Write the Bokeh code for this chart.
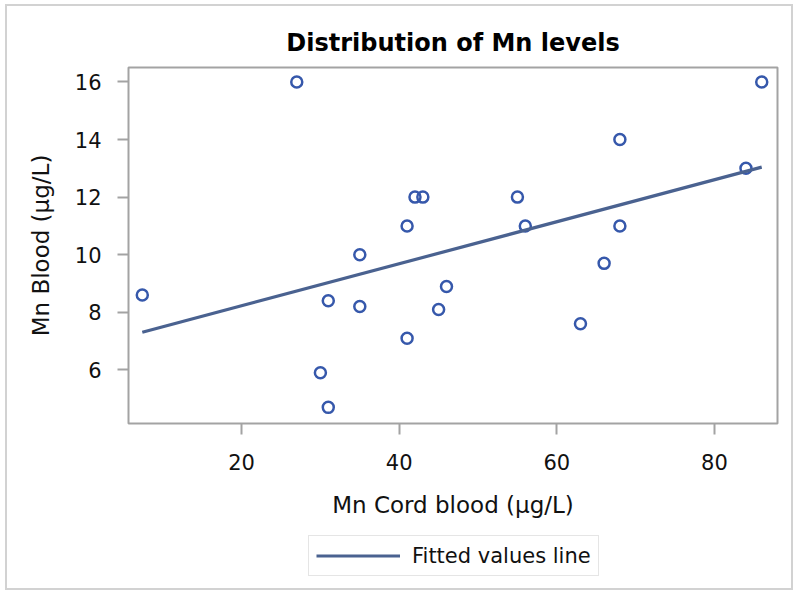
from bokeh.plotting import figure
from bokeh.layouts import column
from bokeh.models import Range1d, Legend, LegendItem, FixedTicker
from bokeh.embed import file_html
from bokeh.resources import INLINE

# ---- data ----
mn_cord = [7.4, 27, 31, 30, 31, 35, 35, 41, 41, 42, 43, 45, 46, 55, 56, 63, 66, 68, 68, 84, 86]
mn_blood = [8.6, 16, 8.4, 5.9, 4.7, 10, 8.2, 11, 7.1, 12, 12, 8.1, 8.9, 12, 11, 7.6, 9.7, 14, 11, 13, 16]
fit_x = [7.4, 86]
fit_y = [7.31, 13.04]
x_ticks = [20, 40, 60, 80]
y_ticks = [6, 8, 10, 12, 14, 16]
legend_label = "Fitted values line"

FONT = "DejaVu Sans"
GRAY = "#a3a3a3"
FIT_COLOR = "#4a6290"

p = figure(frame_width=649, frame_height=356, output_backend="svg", toolbar_location=None,
           x_range=Range1d(5.65, 88.0), y_range=Range1d(4.14, 16.5),
           min_border_left=121, min_border_right=14, min_border_top=61, min_border_bottom=110,
           title="Distribution of Mn levels")

p.title.align = "center"
p.title.text_font = FONT
p.title.text_font_size = "24px"
p.title.text_font_style = "bold"
p.title.text_color = "#000000"
p.title.standoff = 21

p.grid.visible = False
p.outline_line_color = GRAY
p.outline_line_width = 2
p.background_fill_color = "white"
p.border_fill_color = "white"

for ax in (p.xaxis[0], p.yaxis[0]):
    ax.axis_line_color = None
    ax.major_tick_line_color = GRAY
    ax.major_tick_line_width = 2
    ax.major_tick_in = 0
    ax.major_tick_out = 11
    ax.minor_tick_line_color = None
    ax.major_label_text_font = FONT
    ax.major_label_text_font_size = "21px"
    ax.major_label_text_color = "#111111"
    ax.axis_label_text_font = FONT
    ax.axis_label_text_font_size = "23px"
    ax.axis_label_text_font_style = "normal"
    ax.axis_label_text_color = "#111111"

p.xaxis[0].ticker = FixedTicker(ticks=x_ticks)
p.yaxis[0].ticker = FixedTicker(ticks=y_ticks)
p.xaxis[0].axis_label = "Mn Cord blood (µg/L)"
p.yaxis[0].axis_label = "Mn Blood (µg/L)"
p.xaxis[0].major_label_standoff = 19
p.yaxis[0].major_label_standoff = 16
p.xaxis[0].axis_label_standoff = 19
p.yaxis[0].axis_label_standoff = 18

p.scatter(mn_cord, mn_blood, marker="circle", size=11, fill_color=None,
          line_color="#3658ab", line_width=2.5)
p.line(fit_x, fit_y, line_color=FIT_COLOR, line_width=3.2)

# legend strip below the plot (its frame is aligned with the main frame by the column)
lg = figure(width=784, height=55, output_backend="svg", toolbar_location=None,
            min_border=0, x_range=Range1d(0, 1), y_range=Range1d(0, 1))
lg.axis.visible = False
lg.grid.visible = False
lg.outline_line_color = None
lg.background_fill_color = "white"
lg.border_fill_color = "white"
# key renderer: same fitted line, lying outside this strip's visible range
key = lg.line(fit_x, fit_y, line_color=FIT_COLOR, line_width=3.2)
legend = Legend(items=[LegendItem(label=legend_label, renderers=[key])],
                location=(180, 12), orientation="horizontal",
                label_text_font=FONT, label_text_font_size="21px", label_text_color="#111111",
                glyph_width=84, glyph_height=25, label_standoff=12, padding=7,
                border_line_color="#cccccc", border_line_width=1.5,
                background_fill_color="white", margin=0)
lg.add_layout(legend, "center")

layout = column(p, lg, spacing=0)
layout.styles = {"border": "2px solid #d2d2d2", "margin": "4px 0 0 5px"}

open("out.html", "w").write(file_html(layout, INLINE))
